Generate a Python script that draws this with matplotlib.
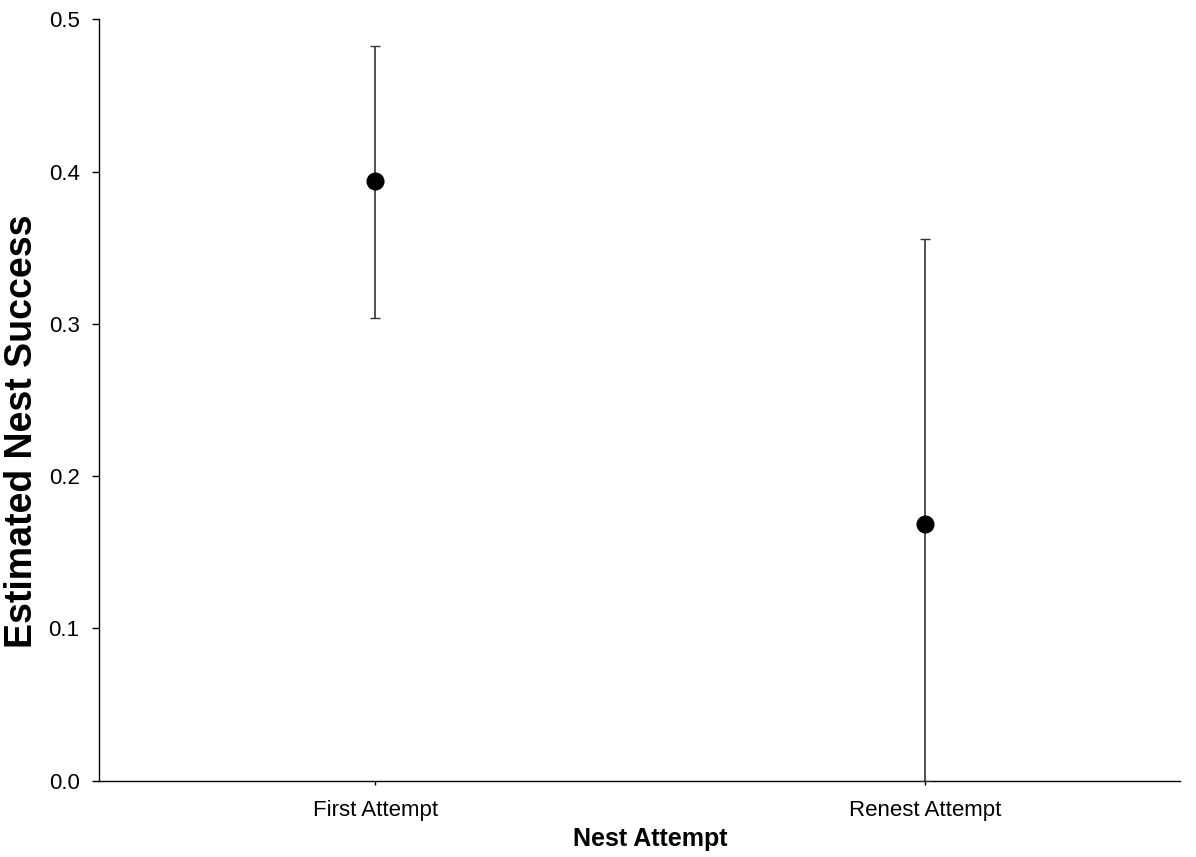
import matplotlib
matplotlib.use('Agg')
import matplotlib.pyplot as plt

plt.rcParams['font.family'] = ['Liberation Sans', 'DejaVu Sans']

# nest success estimates with confidence limits
attempts = ['First Attempt', 'Renest Attempt']
success = [0.3935, 0.1685]
lower = [0.304, 0.0]
upper = [0.4825, 0.3555]
y_ticks = [0.0, 0.1, 0.2, 0.3, 0.4, 0.5]

fig = plt.figure(figsize=(11.96, 8.57), dpi=100)
ax = fig.add_axes([0.0828, 0.0891, 0.9038, 0.8884])

x = list(range(len(attempts)))
err_low = [s - l for s, l in zip(success, lower)]
err_high = [u - s for s, u in zip(success, upper)]
ax.errorbar(x, success, yerr=[err_low, err_high], fmt='o', color='black',
            ecolor='#333333', elinewidth=1.2, capsize=3.5, capthick=1.0,
            markersize=12, zorder=3)

ax.set_xlim(-0.502, 1.463)
ax.set_ylim(0, 0.5)
ax.set_xticks(x)
ax.set_xticklabels(attempts)
ax.set_yticks(y_ticks)
ax.set_yticklabels(['%.1f' % t for t in y_ticks])

for side in ['top', 'right']:
    ax.spines[side].set_visible(False)
for side in ['left', 'bottom']:
    ax.spines[side].set_linewidth(1.0)

ax.tick_params(axis='y', direction='out', length=5, width=1, labelsize=16, pad=9)
ax.tick_params(axis='x', direction='out', length=3, width=1, labelsize=16, pad=11)

# labels sit a bit off-centre in the original
ax.set_xlabel('Nest Attempt', fontsize=18, fontweight='bold', va='center')
ax.xaxis.set_label_coords(0.5097, -0.077)
ax.set_ylabel('Estimated Nest Success', fontsize=27, fontweight='bold', va='center')
ax.yaxis.set_label_coords(-0.0712, 0.459)

fig.savefig('out.png', dpi=100)
